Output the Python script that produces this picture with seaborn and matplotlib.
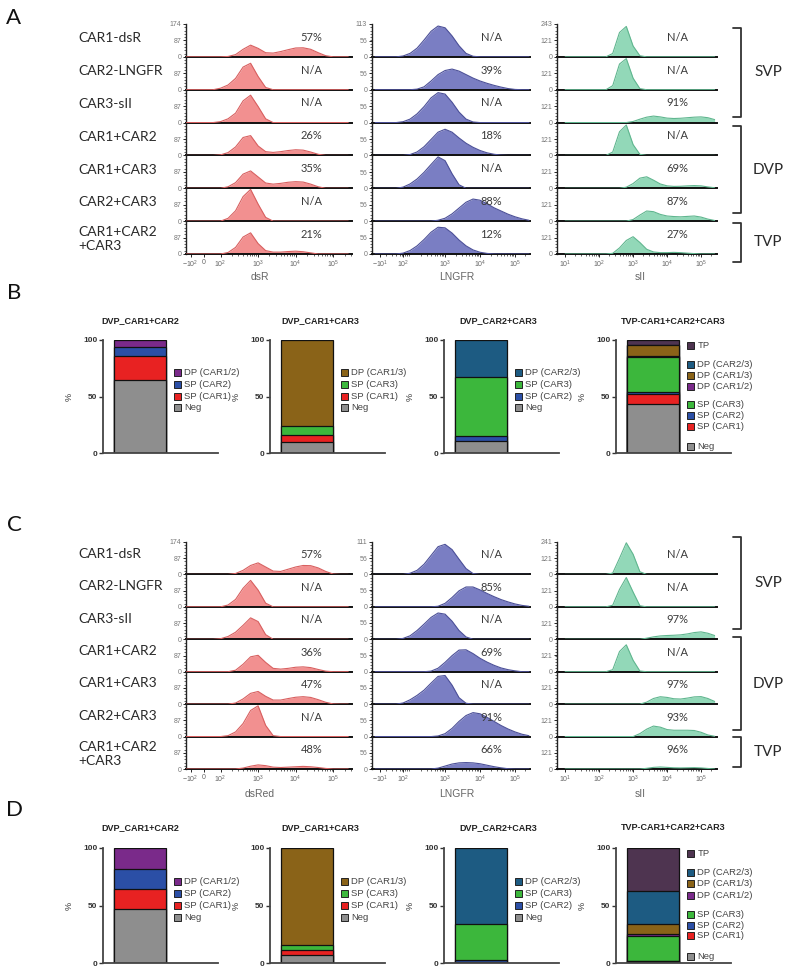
import matplotlib
matplotlib.use("Agg")
import matplotlib.pyplot as plt
from matplotlib.patches import Rectangle
from matplotlib.lines import Line2D
from matplotlib.ticker import MultipleLocator
import numpy as np
import pandas as pd
import seaborn as sns

# ---------------------------------------------------------------- data
ROW_LABELS = ["CAR1-dsR", "CAR2-LNGFR", "CAR3-sII", "CAR1+CAR2", "CAR1+CAR3",
              "CAR2+CAR3", "CAR1+CAR2\n+CAR3"]

# fluorescence axis (display decades) shared by all histograms
GRID = [1.0, 1.2, 1.4, 1.6, 1.8, 2.0, 2.2, 2.4, 2.6, 2.8, 3.0, 3.2, 3.4, 3.6,
        3.8, 4.0, 4.2, 4.4, 4.6, 4.8, 5.0, 5.2, 5.4]

A_DSR = [
    [0, 0, 0, 0, 0, 0, 2, 12, 40, 62, 45, 22, 20, 28, 38, 47, 48, 40, 22, 6, 0, 0, 0],
    [0, 0, 0, 0, 0, 8, 25, 60, 120, 140, 70, 12, 0, 0, 0, 0, 0, 0, 0, 0, 0, 0, 0],
    [0, 0, 0, 0, 0, 5, 20, 50, 115, 145, 85, 20, 0, 0, 0, 0, 0, 0, 0, 0, 0, 0, 0],
    [0, 0, 0, 0, 0, 3, 15, 45, 95, 105, 50, 20, 16, 20, 26, 30, 28, 18, 6, 0, 0, 0, 0],
    [0, 0, 0, 0, 0, 0, 8, 30, 75, 92, 60, 28, 22, 26, 32, 35, 33, 22, 8, 0, 0, 0, 0],
    [0, 0, 0, 0, 0, 0, 15, 55, 130, 168, 90, 20, 0, 0, 0, 0, 0, 0, 0, 0, 0, 0, 0],
    [0, 0, 0, 0, 0, 0, 8, 35, 90, 112, 55, 18, 10, 10, 13, 15, 12, 6, 0, 0, 0, 0, 0],
]
A_LNGFR = [
    [0, 0, 0, 0, 3, 12, 30, 58, 88, 106, 100, 72, 38, 12, 2, 0, 0, 0, 0, 0, 0, 0, 0],
    [0, 0, 0, 0, 0, 0, 2, 10, 30, 52, 66, 71, 64, 52, 40, 30, 22, 15, 9, 4, 1, 0, 0],
    [0, 0, 0, 0, 3, 12, 30, 55, 85, 103, 98, 70, 36, 12, 2, 0, 0, 0, 0, 0, 0, 0, 0],
    [0, 0, 0, 0, 0, 3, 12, 30, 55, 80, 90, 80, 60, 42, 28, 17, 9, 4, 1, 0, 0, 0, 0],
    [0, 0, 0, 0, 4, 15, 32, 55, 82, 108, 95, 50, 12, 0, 0, 0, 0, 0, 0, 0, 0, 0, 0],
    [0, 0, 0, 0, 0, 0, 0, 0, 0, 3, 10, 25, 45, 65, 76, 72, 60, 46, 35, 24, 15, 8, 3],
    [0, 0, 0, 0, 3, 12, 28, 50, 75, 92, 90, 72, 48, 28, 14, 6, 2, 0, 0, 0, 0, 0, 0],
]
A_SII = [
    [0, 0, 0, 0, 0, 0, 0, 25, 180, 225, 80, 8, 0, 0, 0, 0, 0, 0, 0, 0, 0, 0, 0],
    [0, 0, 0, 0, 0, 0, 0, 30, 190, 230, 85, 8, 0, 0, 0, 0, 0, 0, 0, 0, 0, 0, 0],
    [0, 0, 0, 0, 0, 0, 0, 0, 0, 0, 8, 25, 40, 48, 42, 33, 30, 32, 36, 40, 42, 36, 22],
    [0, 0, 0, 0, 0, 0, 0, 25, 175, 225, 80, 8, 0, 0, 0, 0, 0, 0, 0, 0, 0, 0, 0],
    [0, 0, 0, 0, 0, 0, 0, 0, 0, 8, 35, 75, 85, 60, 32, 18, 14, 15, 18, 20, 18, 10, 4],
    [0, 0, 0, 0, 0, 0, 0, 0, 0, 0, 12, 45, 75, 70, 50, 38, 34, 32, 35, 38, 30, 15, 5],
    [0, 0, 0, 0, 0, 0, 0, 5, 45, 100, 128, 85, 35, 15, 10, 10, 12, 10, 6, 3, 0, 0, 0],
]
C_DSR = [
    [0, 0, 0, 0, 0, 0, 0, 5, 22, 48, 62, 40, 18, 16, 28, 40, 48, 47, 35, 16, 2, 0, 0],
    [0, 0, 0, 0, 0, 0, 10, 40, 100, 142, 90, 20, 0, 0, 0, 0, 0, 0, 0, 0, 0, 0, 0],
    [0, 0, 0, 0, 0, 3, 15, 38, 75, 115, 95, 25, 0, 0, 0, 0, 0, 0, 0, 0, 0, 0, 0],
    [0, 0, 0, 0, 0, 0, 0, 8, 40, 80, 88, 50, 18, 14, 18, 24, 26, 22, 12, 3, 0, 0, 0],
    [0, 0, 0, 0, 0, 0, 0, 6, 28, 58, 68, 42, 22, 22, 30, 37, 40, 36, 24, 10, 1, 0, 0],
    [0, 0, 0, 0, 0, 0, 5, 25, 70, 140, 165, 60, 5, 0, 0, 0, 0, 0, 0, 0, 0, 0, 0],
    [0, 0, 0, 0, 0, 0, 0, 0, 5, 15, 22, 18, 10, 8, 10, 12, 14, 12, 8, 3, 0, 0, 0],
]
C_LNGFR = [
    [0, 0, 0, 0, 0, 4, 14, 35, 65, 95, 103, 85, 52, 20, 3, 0, 0, 0, 0, 0, 0, 0, 0],
    [0, 0, 0, 0, 0, 0, 0, 0, 0, 2, 12, 32, 55, 68, 68, 58, 46, 35, 25, 17, 10, 5, 2],
    [0, 0, 0, 0, 3, 12, 30, 52, 75, 90, 86, 62, 30, 8, 0, 0, 0, 0, 0, 0, 0, 0, 0],
    [0, 0, 0, 0, 0, 0, 0, 0, 2, 12, 32, 55, 74, 75, 62, 46, 33, 22, 13, 7, 3, 0, 0],
    [0, 0, 0, 0, 4, 15, 30, 48, 72, 95, 98, 65, 22, 3, 0, 0, 0, 0, 0, 0, 0, 0, 0],
    [0, 0, 0, 0, 0, 0, 0, 0, 0, 2, 10, 28, 52, 72, 82, 78, 66, 52, 38, 26, 16, 8, 3],
    [0, 0, 0, 0, 0, 0, 0, 0, 0, 3, 10, 17, 21, 22, 21, 18, 13, 8, 4, 1, 0, 0, 0],
]
C_SII = [
    [0, 0, 0, 0, 0, 0, 0, 10, 120, 235, 150, 20, 0, 0, 0, 0, 0, 0, 0, 0, 0, 0, 0],
    [0, 0, 0, 0, 0, 0, 0, 12, 130, 218, 110, 8, 0, 0, 0, 0, 0, 0, 0, 0, 0, 0, 0],
    [0, 0, 0, 0, 0, 0, 0, 0, 0, 0, 0, 0, 8, 18, 25, 28, 30, 33, 40, 50, 55, 45, 28],
    [0, 0, 0, 0, 0, 0, 0, 15, 150, 200, 85, 5, 0, 0, 0, 0, 0, 0, 0, 0, 0, 0, 0],
    [0, 0, 0, 0, 0, 0, 0, 0, 0, 0, 0, 0, 15, 42, 55, 50, 40, 38, 45, 54, 56, 42, 20],
    [0, 0, 0, 0, 0, 0, 0, 0, 0, 0, 0, 22, 55, 78, 70, 52, 47, 47, 47, 45, 32, 12, 2],
    [0, 0, 0, 0, 0, 0, 0, 0, 0, 0, 0, 0, 5, 12, 15, 12, 9, 8, 9, 10, 8, 4, 0],
]

A_PCT_DSR = ["57%", "N/A", "N/A", "26%", "35%", "N/A", "21%"]
A_PCT_LNGFR = ["N/A", "39%", "N/A", "18%", "N/A", "88%", "12%"]
A_PCT_SII = ["N/A", "N/A", "91%", "N/A", "69%", "87%", "27%"]
C_PCT_DSR = ["57%", "N/A", "N/A", "36%", "47%", "N/A", "48%"]
C_PCT_LNGFR = ["N/A", "85%", "N/A", "69%", "N/A", "91%", "66%"]
C_PCT_SII = ["N/A", "N/A", "97%", "N/A", "97%", "93%", "96%"]

A_YTICKS = [(174, 87), (113, 56), (243, 121)]
C_YTICKS = [(174, 87), (111, 56), (241, 121)]

XTICK_POS = [[1.2, 1.55, 2.0, 3.0, 4.0, 5.0],
             [1.14, 1.8, 3.0, 4.0, 5.0],
             [1.0, 2.0, 3.0, 4.0, 5.0]]
XTICK_LAB = [["$-10^2$", "0", "$10^2$", "$10^3$", "$10^4$", "$10^5$"],
             ["$-10^1$", "$10^2$", "$10^3$", "$10^4$", "$10^5$"],
             ["$10^1$", "$10^2$", "$10^3$", "$10^4$", "$10^5$"]]
A_XLABELS = ["dsR", "LNGFR", "sII"]
C_XLABELS = ["dsRed", "LNGFR", "sII"]

GROUPS = ["SVP", "DVP", "TVP"]

BAR_TITLES = ["DVP_CAR1+CAR2", "DVP_CAR1+CAR3", "DVP_CAR2+CAR3", "TVP-CAR1+CAR2+CAR3"]
BAR_CATS = [
    ["Neg", "SP (CAR1)", "SP (CAR2)", "DP (CAR1/2)"],
    ["Neg", "SP (CAR1)", "SP (CAR3)", "DP (CAR1/3)"],
    ["Neg", "SP (CAR2)", "SP (CAR3)", "DP (CAR2/3)"],
    ["Neg", "SP (CAR1)", "SP (CAR2)", "SP (CAR3)", "DP (CAR1/2)", "DP (CAR1/3)",
     "DP (CAR2/3)", "TP"],
]
B_VALUES = [[65, 21, 8, 6], [10, 6, 8, 76], [11, 4, 52, 33],
            [43, 9, 2, 31, 1, 9.5, 0.5, 4]]
D_VALUES = [[47, 17, 18, 18], [7, 4, 5, 84], [1, 2, 31, 66],
            [1, 0.5, 0.5, 21.5, 1.5, 9, 29, 37]]

# ---------------------------------------------------------------- style
sns.set_theme(style="ticks")
plt.rcParams["font.family"] = ["Liberation Sans", "DejaVu Sans"]
plt.rcParams["mathtext.default"] = "regular"

COLORS = {"Neg": "#8e8e8e", "SP (CAR1)": "#e82222", "SP (CAR2)": "#2b4fa6",
          "SP (CAR3)": "#3cb73c", "DP (CAR1/2)": "#7a2a8a", "DP (CAR1/3)": "#8a6318",
          "DP (CAR2/3)": "#1d5b82", "TP": "#4e3450"}
FILL = ["#f29090", "#7a7ec3", "#92d8b8"]
EDGE = ["#d86060", "#4c5098", "#60b68f"]
XLIMS = [(1.08, 5.5), (0.91, 5.43), (0.76, 5.47)]
HIST_COLS_PX = [(186, 352), (372, 530), (557, 717)]

W, H = 787, 968
fig = plt.figure(figsize=(W / 100, H / 100), dpi=100)


def fx(px):
    return px / W


def fy(py):
    return 1 - py / H


def add_ax(l, t, r, b):
    return fig.add_axes([l / W, 1 - b / H, (r - l) / W, (b - t) / H])


def draw_hist_panel(top, bottom, data_cols, pct_cols, ytick_cols, xlabels,
                    label_frac, xlabel_y, bracket_spans):
    n = 7
    h = (bottom - top) / n
    for c, (l, r) in enumerate(HIST_COLS_PX):
        ymax, ymid = ytick_cols[c]
        for i in range(n):
            t = top + i * h
            ax = add_ax(l, t, r, t + h)
            vals = data_cols[c][i]
            ax.fill_between(GRID, 0, vals, color=FILL[c], linewidth=0, zorder=2)
            sns.lineplot(x=GRID, y=vals, ax=ax, color=EDGE[c], linewidth=0.8,
                         zorder=3, legend=False)
            ax.set_xlim(*XLIMS[c])
            ax.set_ylim(0, ymax)
            ax.set_xlabel("")
            ax.set_ylabel("")
            for s in ["top", "right"]:
                ax.spines[s].set_visible(False)
            ax.spines["bottom"].set_linewidth(1.4)
            ax.spines["bottom"].set_color("#111")
            ax.spines["left"].set_linewidth(1.0)
            ax.spines["left"].set_color("#222")
            ax.patch.set_alpha(0)
            yt = [0, ymid] + ([ymax] if i == 0 else [])
            ax.set_yticks(yt)
            ax.set_yticklabels([str(v) for v in yt])
            ax.yaxis.set_minor_locator(MultipleLocator(ymax / 10))
            ax.tick_params(axis="y", which="major", labelsize=5, labelcolor="#777",
                           length=2.5, width=0.7, pad=1)
            ax.tick_params(axis="y", which="minor", length=1.3, width=0.5)
            if i < n - 1:
                ax.set_xticks([])
                ax.tick_params(axis="x", which="both", bottom=False)
            else:
                ax.set_xticks(XTICK_POS[c])
                ax.set_xticklabels(XTICK_LAB[c])
                lo = XTICK_POS[c][-4] if c == 0 else XTICK_POS[c][0]
                minors = [d + np.log10(k) for d in range(1, 6) for k in range(2, 10)
                          if lo < d + np.log10(k) < XLIMS[c][1]]
                ax.set_xticks(minors, minor=True)
                ax.tick_params(axis="x", which="major", labelsize=5, labelcolor="#666",
                               length=2.5, width=0.7, pad=1.2)
                ax.tick_params(axis="x", which="minor", length=1.5, width=0.5)
            ax.text(0.755, 0.6, pct_cols[c][i], transform=ax.transAxes, ha="center",
                    va="center", fontsize=8, color="#3a3a3a", family=["Lato", "DejaVu Sans"])
            if c == 0:
                frac = label_frac if i < n - 1 else 0.46
                fig.text(fx(78), fy(t + h - frac * h), ROW_LABELS[i], ha="left",
                         va="center", fontsize=10, color="#2a2a2a",
                         family=["Lato", "DejaVu Sans"], linespacing=1.15)
        fig.text(fx([260, 457, 640][c]), fy(xlabel_y), xlabels[c], ha="center",
                 va="center", fontsize=7.5, color="#666")
    for (y0, y1), g in zip(bracket_spans, GROUPS):
        fig.add_artist(Line2D([fx(733), fx(741), fx(741), fx(733)],
                              [fy(y0), fy(y0), fy(y1), fy(y1)], color="#333", lw=1.3,
                              transform=fig.transFigure))
        fig.text(fx(768), fy((y0 + y1) / 2), g, ha="center", va="center", fontsize=11,
                 color="#2a2a2a", family=["Lato", "DejaVu Sans"])


BAR_LEFTS = [103, 270, 444, 616]
TITLE_X = [140, 320, 498, 673]


def draw_bar_panel(top, bottom, title_y, values_list):
    for k in range(4):
        left = BAR_LEFTS[k]
        ax = add_ax(left, top, left + 115, bottom)
        vals = values_list[k]
        cats = BAR_CATS[k]
        cum = np.cumsum(vals)
        for j in reversed(range(len(vals))):
            df = pd.DataFrame({"grp": ["bar"], "pct": [cum[j]]})
            sns.barplot(data=df, x="grp", y="pct", color=COLORS[cats[j]], saturation=1,
                        width=1, edgecolor="#111", linewidth=0.9, errorbar=None, ax=ax)
        ax.set_xlim(-0.72, 1.5)
        ax.set_ylim(0, 100)
        ax.set_xticks([])
        ax.set_xlabel("")
        ax.set_yticks([0, 50, 100])
        ax.set_yticklabels(["0", "50", "100"])
        ax.tick_params(axis="y", labelsize=6, length=3, width=1, pad=1, colors="#333")
        for lab in ax.get_yticklabels():
            lab.set_fontweight("bold")
        ax.set_ylabel("%", fontsize=6.5, labelpad=7, color="#333")
        for s in ["top", "right"]:
            ax.spines[s].set_visible(False)
        for s in ["left", "bottom"]:
            ax.spines[s].set_linewidth(1.3)
            ax.spines[s].set_color("#444")
        ax.patch.set_alpha(0)
        fig.text(fx(TITLE_X[k]), fy(title_y), BAR_TITLES[k], ha="center", va="center",
                 fontsize=6.5, fontweight="bold", color="#222")
        if len(cats) == 4:
            order = [3, 2, 1, 0]
            ys = [0.29, 0.395, 0.5, 0.6]
        else:
            order = [7, 6, 5, 4, 3, 2, 1, 0]
            ys = [0.045, 0.215, 0.31, 0.41, 0.575, 0.67, 0.765, 0.94]
        sq_w = 7 / 115
        sq_h = 7 / (bottom - top)
        for j, yy in zip(order, ys):
            yc = 1 - yy
            ax.add_patch(Rectangle((0.62, yc - sq_h / 2), sq_w, sq_h, transform=ax.transAxes,
                                   facecolor=COLORS[cats[j]], edgecolor="#222", lw=0.7,
                                   clip_on=False))
            ax.text(0.62 + 10 / 115, yc, cats[j], transform=ax.transAxes, fontsize=6.8,
                    va="center", ha="left", color="#444")


# panel A
draw_hist_panel(24, 254, [A_DSR, A_LNGFR, A_SII],
                [A_PCT_DSR, A_PCT_LNGFR, A_PCT_SII], A_YTICKS, A_XLABELS, 0.57, 277,
                [(28, 117), (126, 213), (223, 262)])
# panel B
draw_bar_panel(340, 453, 321, B_VALUES)
# panel C
draw_hist_panel(542, 769, [C_DSR, C_LNGFR, C_SII],
                [C_PCT_DSR, C_PCT_LNGFR, C_PCT_SII], C_YTICKS, C_XLABELS, 0.64, 794,
                [(537, 629), (637, 730), (737, 767)])
# panel D
draw_bar_panel(848, 963, 828, D_VALUES)

for letter, y in zip("ABCD", [18, 293, 525, 810]):
    fig.text(fx(14), fy(y), letter, ha="center", va="center", fontsize=16,
             color="#111", family=["Lato", "DejaVu Sans"])

fig.savefig("out.png", dpi=100)
